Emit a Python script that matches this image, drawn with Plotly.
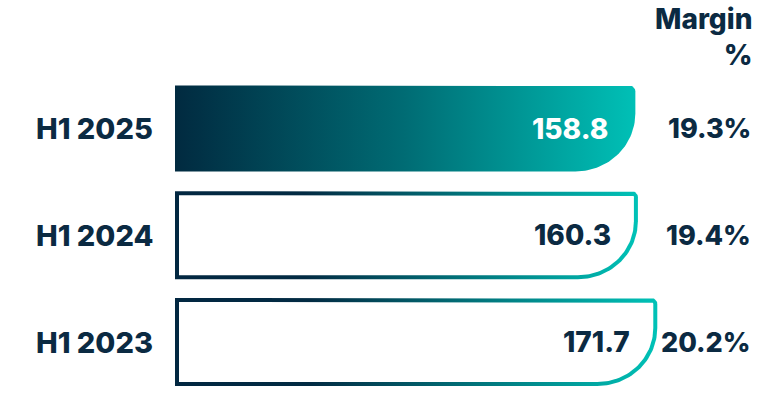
import numpy as np
import plotly.graph_objects as go

# ---- data ----
categories = ["H1 2025", "H1 2024", "H1 2023"]
values = [158.8, 160.3, 171.7]
value_labels = ["158.8", "160.3", "171.7"]
margins = [19.3, 19.4, 20.2]
margin_labels = ["19.3%", "19.4%", "20.2%"]
filled = [True, False, False]
header = "Margin<br>%"

# ---- layout constants ----
W, H = 781, 410
PX_X = 1.7            # pixels per value unit
BASE = -112.0         # bar base value
X0 = BASE - 175 / PX_X
X1 = X0 + W / PX_X
PX_Y = 106.75         # pixels per category step
Y0 = -128.5 / PX_Y
Y1 = Y0 + H / PX_Y

NAVY = "#0b2a42"
FILL_SCALE = [[0, "#012a40"], [0.5, "#006c74"], [1, "#00c0b6"]]
LINE_SCALE = [[0, "#022741"], [0.28, "#022b43"], [1, "#00c2b7"]]
FONT = "Inter"
WT = 800


def dx(px):
    return px / PX_X


def dy(px):
    return px / PX_Y


def bar_path(xl, xr, yc, half_px, inset_px=0.0):
    xl = xl + dx(inset_px)
    xr = xr - dx(inset_px)
    yt = yc - dy(half_px - inset_px)
    yb = yc + dy(half_px - inset_px)
    r_tr = max(6 - inset_px, 1.5)
    rbx = 60 - inset_px
    rby = 58 - inset_px
    xs, ys = [xl], [yt]
    cx, cy = xr - dx(r_tr), yt + dy(r_tr)
    for t in np.linspace(-np.pi / 2, 0, 12):
        xs.append(cx + dx(r_tr) * np.cos(t))
        ys.append(cy + dy(r_tr) * np.sin(t))
    cx, cy = xr - dx(rbx), yb - dy(rby)
    for t in np.linspace(0, np.pi / 2, 40):
        xs.append(cx + dx(rbx) * np.cos(t))
        ys.append(cy + dy(rby) * np.sin(t))
    xs += [xl, xl]
    ys += [yb, yt]
    return xs, ys


fig = go.Figure()
for i, (v, f) in enumerate(zip(values, filled)):
    if f:
        xs, ys = bar_path(BASE, v, i, 43)
        fig.add_trace(go.Scatter(
            x=xs, y=ys, mode="lines", fill="toself", line=dict(width=0),
            fillgradient=dict(type="horizontal", colorscale=FILL_SCALE),
            hoverinfo="skip", showlegend=False))
    else:
        xs, ys = bar_path(BASE, v, i, 44)
        fig.add_trace(go.Scatter(
            x=xs, y=ys, mode="lines", fill="toself", line=dict(width=0),
            fillgradient=dict(type="horizontal", colorscale=LINE_SCALE),
            hoverinfo="skip", showlegend=False))
        xs, ys = bar_path(BASE, v, i, 44, inset_px=4)
        fig.add_trace(go.Scatter(
            x=xs, y=ys, mode="lines", fill="toself", line=dict(width=0),
            fillcolor="white", hoverinfo="skip", showlegend=False))

annotations = []
for i, cat in enumerate(categories):
    annotations.append(dict(
        x=155 / W, xref="paper", y=i, yref="y", text=cat, showarrow=False,
        xanchor="right", yanchor="middle",
        font=dict(family=FONT, size=29, color=NAVY, weight=WT)))
    annotations.append(dict(
        x=values[i], xref="x", y=i, yref="y", text=value_labels[i],
        showarrow=False, xanchor="right", yanchor="middle", xshift=-25,
        font=dict(family=FONT, size=28, weight=WT,
                  color="white" if filled[i] else NAVY)))
    annotations.append(dict(
        x=753 / W, xref="paper", y=i, yref="y", text=margin_labels[i],
        showarrow=False, xanchor="right", yanchor="middle",
        font=dict(family=FONT, size=27, color=NAVY, weight=WT)))
annotations.append(dict(
    x=754 / W, xref="paper", y=1, yref="paper", text=header, showarrow=False,
    xanchor="right", yanchor="top", align="right", yshift=0,
    font=dict(family=FONT, size=28, color=NAVY, weight=WT)))

fig.update_layout(
    width=W, height=H, margin=dict(l=0, r=0, t=0, b=0),
    paper_bgcolor="white", plot_bgcolor="white",
    xaxis=dict(range=[X0, X1], visible=False, fixedrange=True),
    yaxis=dict(range=[Y1, Y0], visible=False, fixedrange=True),
    annotations=annotations, showlegend=False)

fig.write_html("out.html", config={"displayModeBar": False},
               post_script="document.body.style.margin='0';"
                           "document.body.style.overflow='hidden';")
